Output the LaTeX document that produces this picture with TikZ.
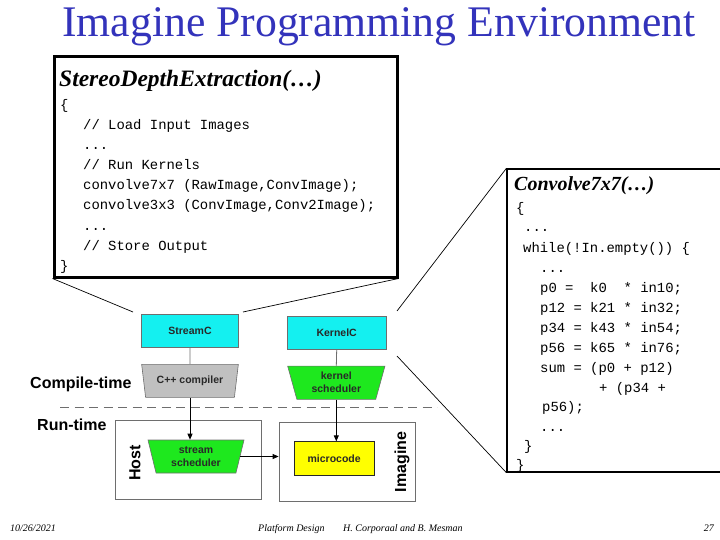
\documentclass[tikz,border=0pt]{standalone}
\usepackage{fontspec}
\setmainfont{Liberation Serif}
\newfontfamily\monof{Liberation Mono}
\newfontfamily\arialf{Liberation Sans}
\usetikzlibrary{shapes.geometric,arrows.meta}
\definecolor{titleblue}{RGB}{51,51,187}
\definecolor{cyanfill}{RGB}{20,240,240}
\definecolor{greenfill}{RGB}{30,232,30}
\definecolor{grayfill}{RGB}{192,192,192}
\definecolor{yellowfill}{RGB}{255,255,0}
\definecolor{edgegray}{RGB}{110,110,110}
\definecolor{textdark}{RGB}{40,40,40}
\begin{document}
\begin{tikzpicture}[x=1pt,y=-1pt,
  code/.style={anchor=base west,inner sep=0,font=\monof\fontsize{13.9}{14}\selectfont},
  boxtitle/.style={anchor=base west,inner sep=0,font=\bfseries\itshape\fontsize{#1}{#1}\selectfont},
  cyanbox/.style={rectangle,draw=edgegray,line width=0.6pt,fill=cyanfill,inner sep=0,
    text=textdark,font=\arialf\bfseries\fontsize{10.5}{12}\selectfont},
  trapbox/.style={trapezium,trapezium stretches body,shape border rotate=180,
    draw=edgegray,line width=0.6pt,inner sep=0,align=center,
    text=textdark,font=\arialf\bfseries\fontsize{10.5}{13}\selectfont},
  framebox/.style={rectangle,draw=edgegray,line width=0.8pt,inner sep=0},
  sidelabel/.style={inner sep=0,font=\arialf\bfseries\fontsize{16}{16}\selectfont},
  foot/.style={anchor=base west,inner sep=0,font=\itshape\fontsize{10}{10}\selectfont},
  link/.style={line width=0.7pt,black},
  flow/.style={line width=0.8pt,black,-{Triangle[length=6pt,width=5pt]}}
]
\useasboundingbox (0,0) rectangle (720,540);

% title
\node[anchor=base west,inner sep=0,text=titleblue,font=\fontsize{43.7}{44}\selectfont] (title) at (62,37) {Imagine Programming Environment};

% main code box
\node[draw,line width=3pt,minimum width=343pt,minimum height=220pt,inner sep=0] (mainbox) at (225.5,167) {};
\node[boxtitle=23.5] (maintitle) at (59,87) {StereoDepthExtraction(…)};
\node[code] (m1) at (60,110) {\{};
\node[code] (m2) at (83,130) {// Load Input Images};
\node[code] (m3) at (83,150) {...};
\node[code] (m4) at (83,170) {// Run Kernels};
\node[code] (m5) at (83,190) {convolve7x7 (RawImage,ConvImage);};
\node[code] (m6) at (83,210) {convolve3x3 (ConvImage,Conv2Image);};
\node[code] (m7) at (83,230) {...};
\node[code] (m8) at (83,250) {// Store Output};
\node[code] (m9) at (60,270) {\}};

% convolve code box
\node[draw,line width=1.3pt,minimum width=230pt,minimum height=303pt,inner sep=0] (convbox) at (622,320.5) {};
\node[boxtitle=20] (convtitle) at (514,191) {Convolve7x7(…)};
\node[code] (c1) at (516,212) {\{};
\node[code] (c2) at (524,232) {...};
\node[code] (c3) at (523,252) {while(!In.empty())~\{};
\node[code] (c4) at (540,272) {...};
\node[code] (c5) at (540,292) {p0~=~~k0~~*~in10;};
\node[code] (c6) at (540,312) {p12~=~k21~*~in32;};
\node[code] (c7) at (540,332) {p34~=~k43~*~in54;};
\node[code] (c8) at (540,352) {p56~=~k65~*~in76;};
\node[code] (c9) at (540,372) {sum~=~(p0~+~p12)};
\node[code] (c10) at (599,392) {+~(p34~+};
\node[code] (c11) at (542,411) {p56);};
\node[code] (c12) at (540,431) {...};
\node[code] (c13) at (524,450) {\}};
\node[code] (c14) at (516,469) {\}};

% diagram nodes
\node[cyanbox,minimum width=96.7pt,minimum height=33.3pt] (streamc) at (190,330.7) {StreamC};
\node[cyanbox,minimum width=98.7pt,minimum height=33.3pt] (kernelc) at (336.7,332.7) {KernelC};
\node[trapbox,fill=grayfill,minimum width=96.7pt,minimum height=33pt,trapezium angle=68] (cpp) at (190,380.8) {C++ compiler};
\node[trapbox,fill=greenfill,minimum width=97.3pt,minimum height=33.3pt,trapezium angle=66] (ksched) at (336.3,382.7) {kernel\\scheduler};

\node[framebox,minimum width=146pt,minimum height=79pt] (hostbox) at (188,459.5) {};
\node[framebox,minimum width=136pt,minimum height=79pt] (imaginebox) at (347,461.5) {};
\node[trapbox,fill=greenfill,minimum width=96pt,minimum height=33pt,trapezium angle=68] (ssched) at (196,456.5) {stream\\scheduler};
\node[cyanbox,fill=yellowfill,draw=textdark,minimum width=80.3pt,minimum height=33.3pt] (micro) at (334.2,458.3) {microcode};
\node[sidelabel,rotate=90] (hostlbl) at (135,463) {Host};
\node[sidelabel,rotate=90] (imaginelbl) at (402,462) {Imagine};

\node[anchor=base west,sidelabel] (compile) at (30,388) {Compile-time};
\node[anchor=base west,sidelabel] (runtime) at (37,430) {Run-time};

% dashed separator
\coordinate (dashL) at (60,407);
\coordinate (dashR) at (437,407);
\draw[edgegray,line width=0.9pt,dash pattern=on 9pt off 5.5pt] (dashL) -- (dashR);

% zoom lines
\coordinate (z1) at (133,312);
\coordinate (z2) at (243,312);
\coordinate (z3) at (397,311);
\coordinate (z4) at (397,356);
\draw[link] (mainbox.south west) -- (z1);
\draw[link] (mainbox.south east) -- (z2);
\draw[link] (z3) -- (convbox.north west);
\draw[link] (z4) -- (convbox.south west);

% flows
\draw[line width=0.8pt,edgegray] (streamc.south) -- (cpp.north);
\draw[line width=0.8pt,edgegray] (kernelc.south) -- (ksched.north);
\draw[flow] (cpp.south) -- (cpp.south |- ssched.north);
\draw[flow] (ksched.south) -- (ksched.south |- micro.north);
\draw[flow] (ssched.east) -- (ssched.east -| imaginebox.west);

% footer
\node[foot] (date) at (10,531) {10/26/2021};
\node[foot] (course) at (258,531) {Platform Design};
\node[foot] (authors) at (343,531) {H. Corporaal and B. Mesman};
\node[foot,anchor=base east] (page) at (714,531) {27};
\end{tikzpicture}
\end{document}
